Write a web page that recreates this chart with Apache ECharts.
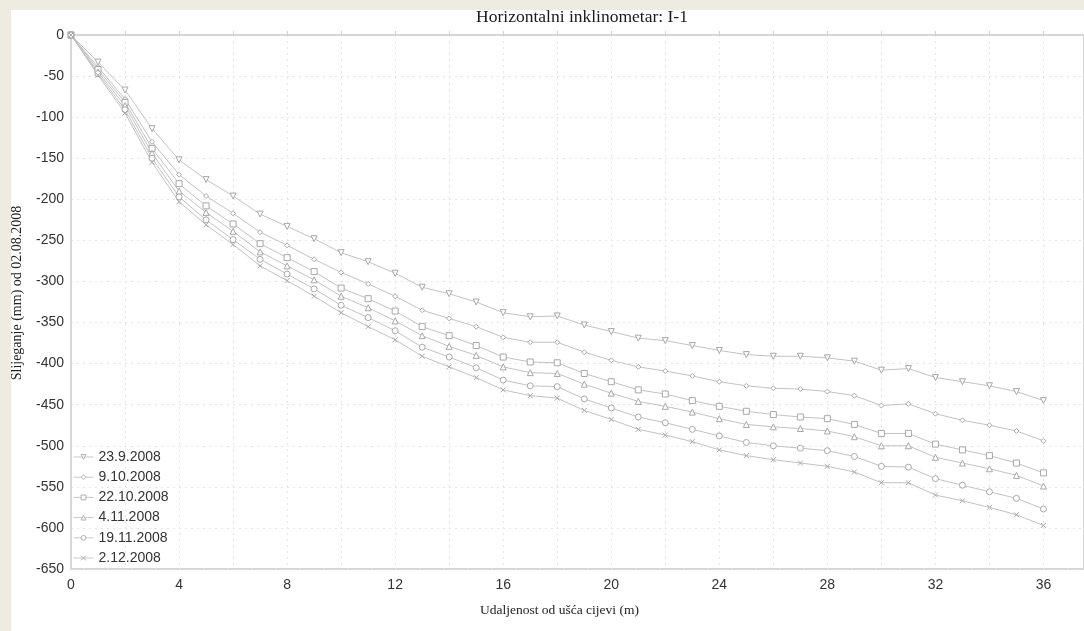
<!DOCTYPE html>
<html>
<head>
<meta charset="utf-8">
<script src="https://cdn.jsdelivr.net/npm/echarts@6/dist/echarts.min.js"></script>
<style>
html,body{margin:0;padding:0;width:1084px;height:631px;background:#EEEBE0;overflow:hidden;}
#panel{position:absolute;left:11px;top:10px;width:1073px;height:621px;background:#fff;}
#chart{width:1073px;height:621px;}
</style>
</head>
<body>
<div id="panel"><div id="chart"></div></div>
<script>
const distances = [0,1,2,3,4,5,6,7,8,9,10,11,12,13,14,15,16,17,18,19,20,21,22,23,24,25,26,27,28,29,30,31,32,33,34,35,36];
const seriesNames = ['23.9.2008','9.10.2008','22.10.2008','4.11.2008','19.11.2008','2.12.2008'];
const s_23_9 = [0,-33,-67,-114,-152,-176,-196,-218,-233,-248,-265,-276,-290,-307,-315,-325,-338,-343,-342,-353,-361,-369,-372,-378,-384,-389,-391,-391,-393,-397,-408,-406,-417,-422,-427,-434,-445];
const s_9_10 = [0,-39,-78,-130,-170,-196,-217,-240,-256,-273,-289,-303,-318,-335,-345,-355,-368,-374,-374,-386,-396,-404,-409,-415,-422,-427,-430,-431,-434,-439,-451,-449,-461,-469,-475,-482,-494];
const s_22_10 = [0,-42,-82,-138,-181,-208,-230,-254,-271,-288,-308,-321,-336,-355,-366,-378,-392,-398,-399,-412,-422,-432,-437,-445,-452,-458,-462,-465,-467,-474,-485,-485,-498,-505,-512,-521,-533];
const s_4_11 = [0,-45,-86,-144,-190,-216,-239,-264,-281,-298,-318,-332,-348,-366,-379,-390,-404,-411,-412,-425,-436,-446,-452,-459,-467,-474,-477,-479,-482,-489,-500,-500,-514,-521,-528,-536,-549];
const s_19_11 = [0,-47,-91,-150,-197,-225,-249,-273,-291,-309,-329,-344,-360,-380,-392,-405,-420,-427,-428,-443,-454,-465,-472,-480,-488,-496,-500,-503,-506,-513,-525,-526,-540,-548,-556,-564,-577];
const s_2_12 = [0,-49,-95,-155,-203,-231,-255,-281,-299,-318,-338,-355,-371,-391,-404,-417,-432,-439,-442,-457,-468,-480,-487,-495,-505,-512,-517,-521,-525,-532,-545,-545,-560,-567,-575,-584,-597];
const yTicks = [-650,-600,-550,-500,-450,-400,-350,-300,-250,-200,-150,-100,-50,0];
const xLabelTicks = [0,4,8,12,16,20,24,28,32,36];

const allValues = [s_23_9,s_9_10,s_22_10,s_4_11,s_19_11,s_2_12];
const symbols = ['triangle','diamond','rect','triangle','circle','path://M0,0L10,10M10,0L0,10'];
const rotations = [180,0,0,0,0,0];
const sizes = [6,5,6,6,6,5];

const chart = echarts.init(document.getElementById('chart'));
const series = allValues.map((vals,i)=>({
  name: seriesNames[i],
  type: 'line',
  data: distances.map((d,j)=>[d, vals[j]]),
  symbol: symbols[i],
  symbolRotate: rotations[i],
  symbolSize: sizes[i],
  showAllSymbol: true,
  lineStyle: {color:'#c2c2c2', width:1},
  itemStyle: {color: i===5 ? 'none' : '#fff', borderColor:'#a8a8a8', borderWidth:1},
  emphasis: {disabled:true},
  z: 2
}));

chart.setOption({
  animation: false,
  title: {
    text: 'Horizontalni inklinometar: I-1',
    left: 566, top: -7, textAlign: 'center',
    textStyle: {fontFamily: 'Liberation Serif', fontSize: 17.5, fontWeight: 'normal', color: '#1a1a1a'}
  },
  legend: {
    data: seriesNames,
    orient: 'vertical',
    left: 57, top: 435,
    itemWidth: 20, itemHeight: 6, itemGap: 6.2,
    itemStyle: {color: '#fff', borderColor: '#b0b0b0', borderWidth: 1},
    lineStyle: {color: '#c8c8c8', width: 1},
    textStyle: {fontFamily: 'Liberation Sans', fontSize: 14, color: '#333'},
    inactiveColor: '#ccc'
  },
  grid: {
    left: 60, top: 25, right: 0, bottom: 62,
    show: true, borderColor: '#d6d6d6', borderWidth: 2, backgroundColor: 'transparent'
  },
  xAxis: {
    type: 'value', min: 0, max: 37.5, interval: 2,
    axisLine: {show: true, lineStyle: {color: '#d6d6d6', width: 2}},
    axisTick: {show: true, inside: true, length: 4, lineStyle: {color: '#d0d0d0'}},
    axisLabel: {
      showMaxLabel: false, margin: 9,
      fontFamily: 'Liberation Sans', fontSize: 14, color: '#333',
      formatter: v => xLabelTicks.indexOf(v) >= 0 ? String(v) : ''
    },
    splitLine: {show: true, lineStyle: {type: [2,4], color: '#e4e4e4', width: 1}}
  },
  yAxis: {
    type: 'value', min: yTicks[0], max: yTicks[yTicks.length-1], interval: 50,
    axisLine: {show: true, lineStyle: {color: '#d6d6d6', width: 2}},
    axisTick: {show: false},
    axisLabel: {fontFamily: 'Liberation Sans', fontSize: 14, color: '#333', margin: 7},
    splitLine: {show: true, lineStyle: {type: [2,4], color: '#e4e4e4', width: 1}}
  },
  graphic: [
    {type: 'text', left: 469, top: 593,
      style: {text: 'Udaljenost od ušća cijevi (m)', font: '13.5px "Liberation Serif"', fill: '#222'}},
    {type: 'text', x: 6.5, y: 283, rotation: Math.PI/2,
      style: {text: 'Slijeganje (mm) od 02.08.2008', font: '14px "Liberation Serif"', fill: '#222', align: 'center', verticalAlign: 'middle'}}
  ],
  series: series
});
</script>
</body>
</html>
